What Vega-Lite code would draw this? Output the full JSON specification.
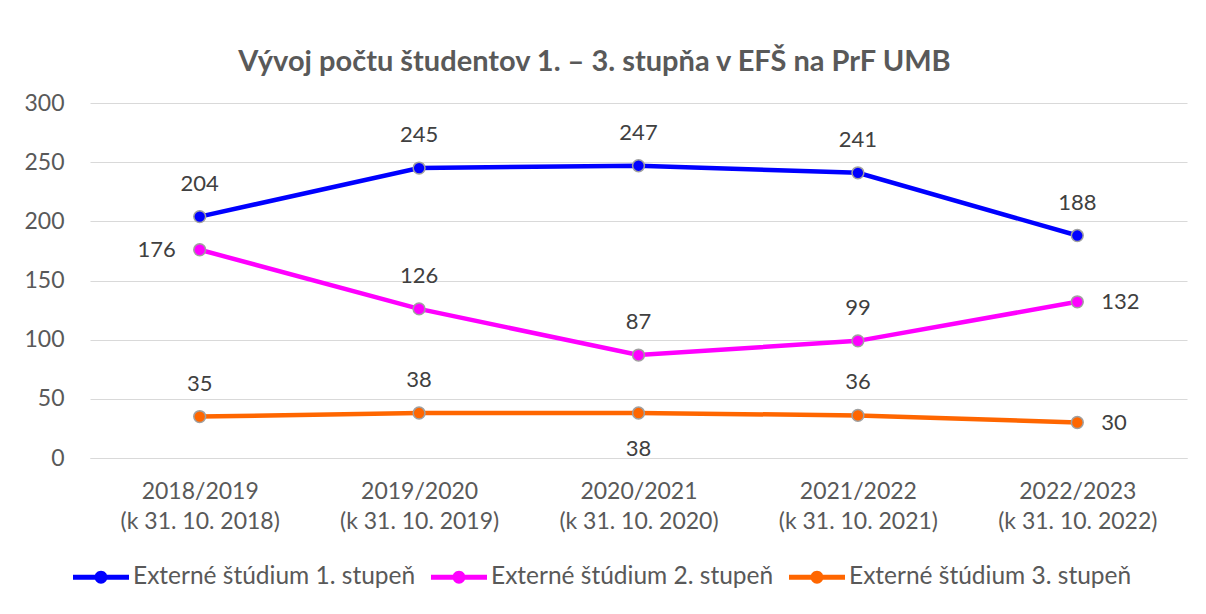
{
  "$schema": "https://vega.github.io/schema/vega-lite/v6.json",
  "width": 1097,
  "height": 355,
  "autosize": "none",
  "padding": {"left": 90, "top": 103, "right": 19, "bottom": 156},
  "background": "white",
  "title": {
    "text": "Vývoj počtu študentov 1. – 3. stupňa v EFŠ na PrF UMB",
    "anchor": "middle",
    "dx": -44,
    "offset": 15,
    "font": "Lato",
    "fontSize": 29,
    "fontWeight": "bold",
    "color": "#595959"
  },
  "data": {
    "values": [
      {"year": "2018/2019", "series": "Externé štúdium 1. stupeň", "value": 204},
      {"year": "2019/2020", "series": "Externé štúdium 1. stupeň", "value": 245},
      {"year": "2020/2021", "series": "Externé štúdium 1. stupeň", "value": 247},
      {"year": "2021/2022", "series": "Externé štúdium 1. stupeň", "value": 241},
      {"year": "2022/2023", "series": "Externé štúdium 1. stupeň", "value": 188},
      {"year": "2018/2019", "series": "Externé štúdium 2. stupeň", "value": 176},
      {"year": "2019/2020", "series": "Externé štúdium 2. stupeň", "value": 126},
      {"year": "2020/2021", "series": "Externé štúdium 2. stupeň", "value": 87},
      {"year": "2021/2022", "series": "Externé štúdium 2. stupeň", "value": 99},
      {"year": "2022/2023", "series": "Externé štúdium 2. stupeň", "value": 132},
      {"year": "2018/2019", "series": "Externé štúdium 3. stupeň", "value": 35},
      {"year": "2019/2020", "series": "Externé štúdium 3. stupeň", "value": 38},
      {"year": "2020/2021", "series": "Externé štúdium 3. stupeň", "value": 38},
      {"year": "2021/2022", "series": "Externé štúdium 3. stupeň", "value": 36},
      {"year": "2022/2023", "series": "Externé štúdium 3. stupeň", "value": 30}
    ]
  },
  "encoding": {
    "x": {
      "field": "year",
      "type": "ordinal",
      "sort": null,
      "scale": {"type": "point", "padding": 0.5},
      "axis": {
        "title": null,
        "labelAngle": 0,
        "labelExpr": "[datum.label, '(k 31. 10. ' + slice(datum.label, 0, 4) + ')']",
        "labelFont": "Lato",
        "labelFontSize": 23,
        "labelColor": "#595959",
        "labelLineHeight": 30,
        "labelPadding": 22,
        "domain": true,
        "domainColor": "#d9d9d9",
        "domainWidth": 1,
        "ticks": false,
        "grid": false
      }
    },
    "y": {
      "field": "value",
      "type": "quantitative",
      "scale": {"domain": [0, 300], "nice": false},
      "axis": {
        "title": null,
        "values": [0, 50, 100, 150, 200, 250, 300],
        "labelFont": "Lato",
        "labelFontSize": 23,
        "labelColor": "#595959",
        "labelPadding": 26,
        "domain": false,
        "ticks": false,
        "grid": true,
        "gridColor": "#d9d9d9",
        "gridWidth": 1
      }
    },
    "color": {
      "field": "series",
      "type": "nominal",
      "scale": {
        "domain": ["Externé štúdium 1. stupeň", "Externé štúdium 2. stupeň", "Externé štúdium 3. stupeň"],
        "range": ["#0000ff", "#ff00ff", "#ff6600"]
      },
      "legend": {
        "title": null,
        "orient": "none",
        "direction": "horizontal",
        "legendX": -17,
        "legendY": 446,
        "symbolType": "M-1,-0.085 H1 V0.085 H-1 Z M0.23,0 A0.23,0.23 0 1,1 -0.23,0 A0.23,0.23 0 1,1 0.23,0 Z",
        "symbolSize": 3136,
        "symbolStrokeWidth": 0,
        "labelFont": "Lato",
        "labelFontSize": 24.5,
        "labelColor": "#595959",
        "labelOffset": 4,
        "columnPadding": 15,
        "labelLimit": 500,
        "encode": {
          "symbols": {
            "update": {
              "fill": {"scale": "color", "field": "value"},
              "stroke": {"value": "transparent"},
              "opacity": {"value": 1}
            }
          }
        }
      }
    }
  },
  "layer": [
    {
      "mark": {"type": "line", "strokeWidth": 4.5}
    },
    {
      "mark": {"type": "point", "filled": true, "size": 140, "stroke": "#a0a0a0", "strokeWidth": 1.5, "opacity": 1}
    },
    {
      "transform": [
        {"filter": "!((datum.series == 'Externé štúdium 2. stupeň' && (datum.year == '2018/2019' || datum.year == '2022/2023')) || (datum.series == 'Externé štúdium 3. stupeň' && (datum.year == '2020/2021' || datum.year == '2022/2023')))"}
      ],
      "mark": {"type": "text", "dy": -33, "font": "Lato", "fontSize": 22},
      "encoding": {"text": {"field": "value", "type": "quantitative"}, "color": {"value": "#404040"}}
    },
    {
      "transform": [
        {"filter": "datum.series == 'Externé štúdium 2. stupeň' && datum.year == '2018/2019'"}
      ],
      "mark": {"type": "text", "align": "right", "dx": -24, "font": "Lato", "fontSize": 22},
      "encoding": {"text": {"field": "value", "type": "quantitative"}, "color": {"value": "#404040"}}
    },
    {
      "transform": [
        {"filter": "datum.year == '2022/2023' && datum.series != 'Externé štúdium 1. stupeň'"}
      ],
      "mark": {"type": "text", "align": "left", "dx": 24, "font": "Lato", "fontSize": 22},
      "encoding": {"text": {"field": "value", "type": "quantitative"}, "color": {"value": "#404040"}}
    },
    {
      "transform": [
        {"filter": "datum.series == 'Externé štúdium 3. stupeň' && datum.year == '2020/2021'"}
      ],
      "mark": {"type": "text", "dy": 36, "font": "Lato", "fontSize": 22},
      "encoding": {"text": {"field": "value", "type": "quantitative"}, "color": {"value": "#404040"}}
    }
  ],
  "config": {
    "view": {"stroke": null}
  }
}
